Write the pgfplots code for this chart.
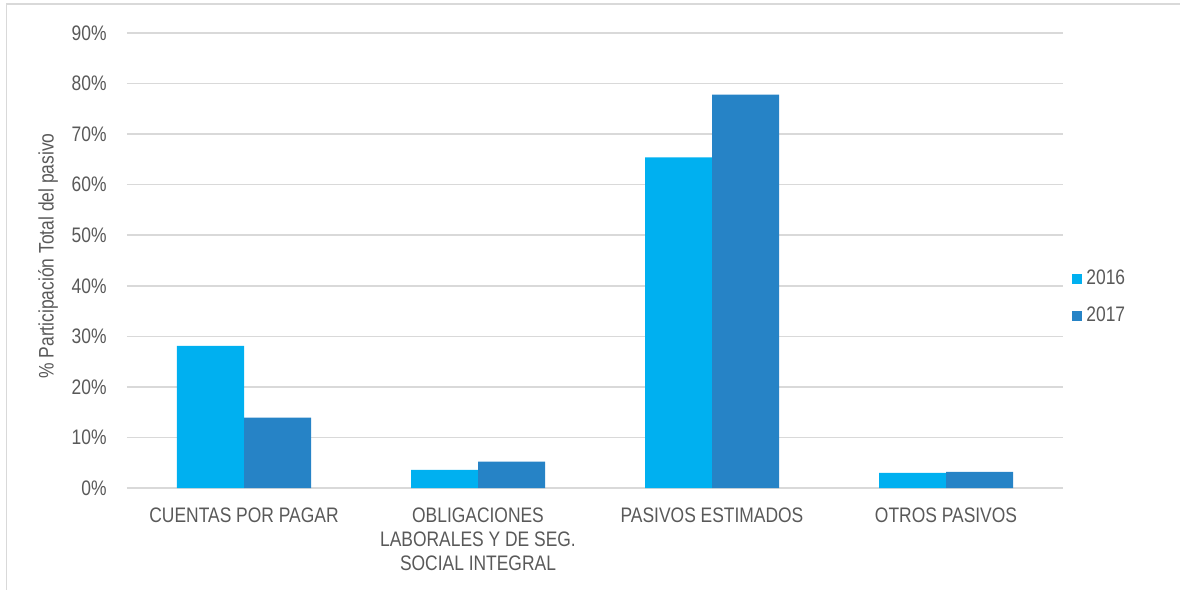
\documentclass[border=0pt]{standalone}
\usepackage{pgfplots}
\pgfplotsset{compat=1.18}
\usepackage{fontspec}
\setmainfont{Liberation Sans}[FakeStretch=0.83]
\definecolor{c2016}{HTML}{00B0F0}
\definecolor{c2017}{HTML}{2683C6}
\definecolor{gridc}{HTML}{D9D9D9}
\definecolor{txt}{HTML}{595959}
\begin{document}
\begin{tikzpicture}
\useasboundingbox (0,0) rectangle (590pt,295pt);
\draw[gridc, line width=0.6pt] (3.25pt,0pt) -- (3.25pt,293pt) -- (590pt,293pt);
\begin{axis}[
  at={(63.5pt,51pt)}, anchor=south west,
  scale only axis, width=468pt, height=227.5pt,
  ybar=0pt, bar width=33.5pt,
  xmin=-0.5, xmax=3.5, ymin=0, ymax=90,
  xtick={0,1,2,3},
  xticklabels={CUENTAS POR PAGAR, OBLIGACIONES\\LABORALES Y DE SEG.\\SOCIAL INTEGRAL, PASIVOS ESTIMADOS, OTROS PASIVOS},
  ytick={0,10,20,30,40,50,60,70,80,90},
  yticklabels={0\%,10\%,20\%,30\%,40\%,50\%,60\%,70\%,80\%,90\%},
  axis line style={draw=none},
  major tick style={draw=none},
  ymajorgrids, major grid style={gridc, line width=0.75pt},
  font=\fontsize{10.5}{12}\selectfont,
  every tick label/.append style={text=txt},
  yticklabel style={inner sep=0pt, xshift=-10pt},
  xticklabel style={inner sep=0pt, anchor=north, yshift=-5.5pt, align=center, font=\fontsize{10.5}{12}\selectfont},
  ylabel={\% Participación Total del pasivo},
  ylabel style={at={(axis description cs:-0.0844,0.51)}, anchor=center, text=txt, inner sep=0pt},
  legend style={at={(rel axis cs:1.0096,0.419)}, anchor=west, draw=none, fill=none, inner sep=0pt, row sep=5.5pt, text=txt, cells={anchor=west}, font=\fontsize{10.5}{12}\selectfont},
  legend image code/.code={\fill[#1] (0pt,-2.5pt) rectangle (5pt,2.5pt);},
]
\addplot[fill=c2016, draw=none] coordinates {(0,28.1) (1,3.6) (2,65.4) (3,3.0)};
\addplot[fill=c2017, draw=none] coordinates {(0,13.9) (1,5.2) (2,77.8) (3,3.2)};
\legend{2016,2017}
\end{axis}
\end{tikzpicture}
\end{document}
